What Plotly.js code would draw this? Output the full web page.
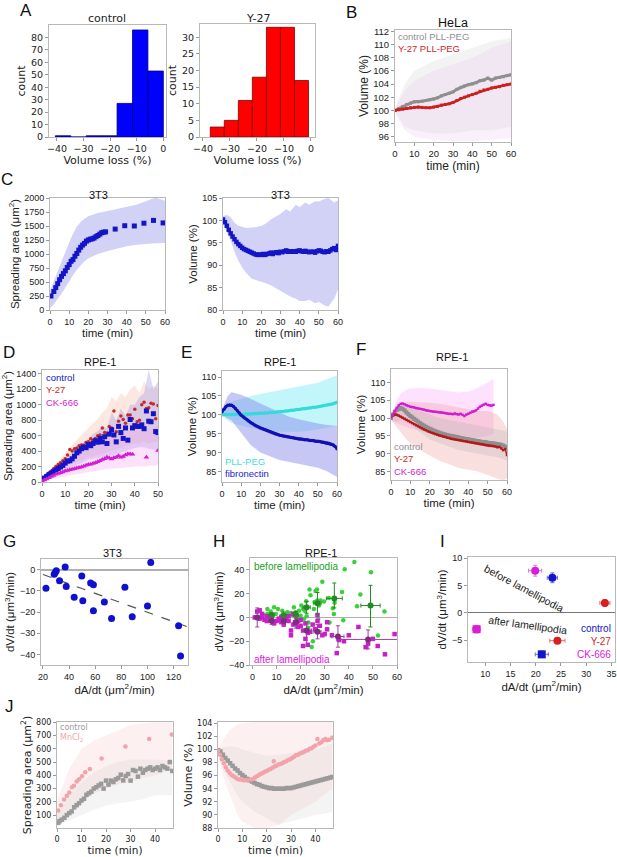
<!DOCTYPE html>
<html>
<head>
<meta charset="utf-8">
<script src="https://cdn.plot.ly/plotly-3.0.1.min.js"></script>
<style>
	body{margin:0;background:#fff;}
	#fig{width:617px;height:857px;}
</style>
</head>
<body>
<div id="fig"></div>
<script>
// ---- A: volume loss histograms ----
var lossCtrlX = [-37.7,-31.9,-26.1,-20.3,-14.5,-8.7,-2.9];
var lossCtrlN = [1,0,1,1,27,86,53];
var lossY27X = [-34.7,-29.5,-24.3,-19.1,-13.9,-8.7,-3.5];
var lossY27N = [3,5,11,18,33,33,17];

// ---- B: HeLa volume ----
var tHela = [0,2,4,6,8,10,12,14,16,18,20,22,24,26,28,30,32,34,36,38,40,42,44,46,48,50,52,54,56,58,60];
var helaCtrl = [100,100.3,100.6,100.9,101.1,101.3,101.3,101.4,101.5,101.6,101.7,101.9,102.2,102.4,102.6,102.8,103.2,103.5,103.7,103.9,104.0,104.2,104.5,104.6,104.9,104.6,104.9,105.0,105.1,105.3,105.4];
var helaY27 = [100,100.1,100.2,100.3,100.4,100.45,100.5,100.45,100.4,100.4,100.5,100.6,100.8,100.9,101.0,101.2,101.5,101.8,102.0,102.2,102.4,102.6,102.9,103.1,103.2,103.4,103.5,103.6,103.8,103.9,104.0];
var tHelaBand = [0,5,10,20,30,40,50,60];
var helaCtrlHi = [100.3,104,106,107.5,108.5,109.5,110.5,111];
var helaCtrlLo = [99.8,97.5,97,96.5,96.5,97,97,97.5];
var helaY27Hi = [100.3,103,104.5,106,107,108,109.5,110.5];
var helaY27Lo = [99.7,97,96,95.5,95.3,95.3,95.5,95.8];

// ---- C: 3T3 spreading area and volume ----
var t3t3Area = [0.5,2,3,4,5,6,7,8,9,10,11,12,13,14,15,16,17,18,19,20,21,22,23,24,25,26,27,28,29,34,39,44,49,54,59];
var area3t3 = [250,330,400,470,540,600,650,700,760,810,870,900,960,1010,1070,1120,1160,1190,1230,1250,1265,1270,1285,1310,1330,1355,1380,1390,1395,1445,1505,1500,1550,1600,1555];
var t3t3AreaBand = [0,2,4,6,8,10,12,14,16,18,20,25,30,35,40,45,50,55,60];
var area3t3Hi = [350,520,720,895,1060,1206,1360,1490,1570,1630,1672,1730,1770,1810,1850,1880,1940,2010,1950];
var area3t3Lo = [30,100,200,290,400,506,620,720,800,870,925,1000,1055,1100,1140,1165,1180,1190,1195];

var t3t3Vol = [0,1,2,3,4,5,6,7,8,9,10,11,12,13,14,15,16,17,18,19,20,21,22,23,24,25,26,27,28,29,30,31,32,33,34,35,36,37,38,39,40,41,42,43,44,45,46,47,48,49,50,51,52,53,54,55,56,57,58,59,60];
var vol3t3 = [100.2,99.6,98.8,97.9,97.1,96.4,95.8,95.2,94.7,94.3,93.9,93.6,93.4,93.2,93.0,92.8,92.6,92.4,92.3,92.4,92.3,92.5,92.3,92.5,92.6,92.8,92.5,92.8,92.9,92.7,93.0,92.9,93.1,93.3,93.0,93.1,93.0,93.1,93.0,93.2,93.3,93.1,93.0,93.2,93.0,92.9,93.0,93.0,92.8,93.1,93.3,93.2,93.0,92.9,93.1,93.0,93.3,93.6,93.8,93.4,94.3];
var t3t3VolBand = [0,2,4,6,8,10,12,15,18,20,22,25,28,30,33,35,38,40,43,45,48,50,53,55,58,60];
var vol3t3Hi = [101,101.2,100.7,99.5,98.8,98.5,98.3,98.4,98.5,98.8,99.2,100.2,101,101.5,102.5,102,103.5,103,104,103.5,104.3,104.2,104.8,105,104,104.5];
var vol3t3Lo = [99.3,97.5,95.5,93,91,89.5,88.3,87,86.5,86.3,86,85.5,84.8,84.2,83.5,83,82.5,82,82,82.3,81.5,81.8,81,80.8,82.5,84.5];

// ---- D: RPE-1 spreading area ----
var tRpeArea = [0,1,2,3,4,5,6,7,8,9,10,11,12,13,14,15,16,17,18,19,20,21,22,23,24,25,26,27,28,29,30,31,32,33,34,35,36,37,38,39,40,41,42,43,44,45,46,47,48,49,50];
var areaCtrl = [25,50,72,95,115,135,155,175,195,215,245,270,275,300,333,378,400,431,453,444,484,470,498,533,515,564,520,587,498,620,676,609,520,720,640,564,700,542,809,700,730,720,720,740,690,920,787,780,884,653,640];
var areaY27 = [30,60,90,115,140,170,200,225,250,275,300,350,422,400,431,440,470,480,476,510,520,560,542,564,600,609,698,640,631,720,698,920,650,787,853,809,760,867,867,820,942,780,800,1000,1031,950,960,1020,1009,820,990];
var tRpeAreaCk = [0,1,2,3,4,5,6,7,8,9,10,11,12,13,14,15,16,17,18,19,20,21,22,23,24,25,26,27,28,29,30,31,32,33,34,35,36,37,38,39,45,50];
var areaCk = [10,25,40,55,70,84,100,110,120,130,142,150,158,164,170,180,187,195,205,218,225,231,240,250,262,275,290,300,320,310,298,315,320,340,320,330,350,364,364,360,320,409];
var tRpeAreaBand = [0,2,4,6,8,10,12,14,16,18,20,22,24,26,28,30,32,34,36,38,40,42,44,46,48,50];
var areaCtrlHi = [40,90,140,190,240,300,360,420,470,520,560,620,660,720,700,900,800,950,850,1000,1000,1100,1150,1450,1200,1300];
var areaCtrlLo = [15,30,50,80,110,150,180,210,240,260,290,300,310,320,330,340,360,380,400,420,440,450,450,430,420,400];
var areaY27Hi = [50,110,170,240,300,380,450,520,580,640,700,760,820,900,950,1100,1050,1150,1100,1200,1250,1150,1300,1200,1250,1200];
var areaY27Lo = [20,50,90,130,170,200,230,260,280,300,320,330,340,360,380,400,420,440,460,480,500,500,520,500,510,520];
var areaCkHi = [20,60,100,150,200,250,300,340,380,420,450,480,520,560,600,640,600,620,640,650,680,660,700,680,700,720];
var areaCkLo = [5,15,30,45,60,75,90,100,110,120,130,140,150,160,170,170,180,180,190,190,200,200,200,210,210,220];

// ---- E: RPE-1 volume, substrate ----
var tRpeVol = [0,1,2,3,4,5,6,7,8,9,10,11,12,13,14,15,16,17,18,19,20,21,22,23,24,25,26,27,28,29,30,31,32,33,34,35,36,37,38,39,40,41,42,43,44,45,46,47,48,49,50,51,52,53,54,55,56,57,58,59,60];
var volFn = [100.8,101.5,102.1,102.5,102.6,102.5,102.2,101.7,101.1,100.5,99.9,99.5,99.1,98.7,98.3,97.9,97.6,97.3,97.0,96.8,96.5,96.3,96.1,95.9,95.7,95.5,95.3,95.1,94.9,94.8,94.6,94.5,94.4,94.3,94.2,94.1,94.0,93.9,93.8,93.7,93.6,93.6,93.5,93.4,93.4,93.3,93.2,93.2,93.1,93.0,93.0,92.9,92.8,92.7,92.6,92.5,92.4,92.2,92.0,91.6,91.0];
var volPll = [100.0,100.1,100.1,100.1,100.1,100.1,100.1,100.1,100.1,100.1,100.1,100.1,100.2,100.2,100.2,100.2,100.3,100.3,100.3,100.4,100.4,100.4,100.5,100.5,100.5,100.6,100.6,100.7,100.7,100.8,100.8,100.9,100.9,101.0,101.0,101.1,101.2,101.2,101.3,101.4,101.4,101.5,101.6,101.6,101.7,101.8,101.8,101.9,102.0,102.0,102.1,102.2,102.3,102.4,102.5,102.6,102.7,102.8,102.9,103.1,103.3];
var tRpeVolBand = [0,3,5,8,10,15,20,25,30,35,40,45,50,55,60];
var volPllHi = [100.3,102.5,103.5,104,104.3,105,105.5,106,106.5,107,107.3,107.8,108.5,109.5,110.5];
var volPllLo = [99.7,98.5,97.8,97.5,97.2,96.5,96,95.7,95.5,95.5,95.5,95.7,96,96.5,97];
var volFnHi = [101.5,105,106,105.7,105.3,104.2,103,101.8,100.5,99.5,98.8,98.2,97.7,97.3,97];
var volFnLo = [100,99,98.5,96.5,95,92,90,89,88,87.5,87,86.5,86,85,83.5];

// ---- F: RPE-1 volume, drugs ----
var volCtrlF = [100,101,101.8,102.3,102.6,102.8,102.6,102.2,101.6,101.1,100.6,100.2,99.8,99.4,99.0,98.6,98.2,97.9,97.6,97.3,97.0,96.8,96.5,96.3,96.1,95.9,95.7,95.5,95.4,95.2,95.1,95.0,94.9,94.8,94.7,94.6,94.4,94.3,94.2,94.1,94.0,93.9,93.8,93.7,93.6,93.5,93.4,93.3,93.3,93.2,93.1,93.0,93.0,92.9,92.8,92.7,92.6,92.5,92.3,92.0,91.6];
var volY27F = [100.4,100.8,101.0,100.9,100.7,100.4,100.1,99.8,99.5,99.2,98.9,98.6,98.3,98.0,97.7,97.4,97.1,96.8,96.6,96.3,96.1,95.9,95.7,95.5,95.3,95.1,95.0,94.8,94.7,94.5,94.4,94.2,94.1,94.0,93.9,93.8,93.7,93.6,93.5,93.4,93.3,93.2,93.1,93.0,92.9,92.8,92.7,92.6,92.5,92.4,92.3,92.2,92.2,92.1,92.0,91.8,91.9,91.5,91.0,91.3,89.6];
var tCkF = [0,1,2,3,4,5,6,7,8,9,10,11,12,13,14,15,16,17,18,19,20,21,22,23,24,25,26,27,28,29,30,31,32,33,34,35,36,37,38,39,40,41,42,43,44,45,46,47,48,49,50,51,52,53];
var volCkF = [100.2,101.0,102.0,102.9,103.6,104.0,104.1,103.9,103.6,103.4,103.2,103.1,103.0,102.8,102.7,102.6,102.5,102.4,102.2,102.1,102.0,101.9,101.8,101.8,101.7,101.6,101.6,101.5,101.4,101.3,101.2,101.2,101.1,101.3,101.1,101.0,101.2,100.9,100.6,101.0,101.2,101.5,101.8,101.9,102.2,102.7,103.2,103.5,103.8,104.0,103.7,103.6,103.5,103.7];
var tBandF = [0,3,5,8,10,15,20,25,30,35,40,45,50,55,58,60];
var volCtrlFHi = [100.5,103,104,103.5,103,102,101,100,99.5,99,98.5,98,97.5,97,96.5,96];
var volCtrlFLo = [99.5,99,99.5,99,98,96,94,93,92,91,90.5,90,89.5,89,88.5,88];
var volY27FHi = [101,103,104,104.5,104.5,104.5,104.3,104,103.5,103,102.5,102,102,101,99,97];
var volY27FLo = [99.5,97.5,96,94,93,91,89.5,88,87,86,85.5,85,84,83,82.5,83];
var tBandCkF = [0,3,5,8,10,15,20,25,30,35,40,45,50,53];
var volCkFHi = [101,105,107,108,108.3,108.5,108.3,108,107.5,107.2,107.5,108.5,110,111];
var volCkFLo = [99.5,98.5,98,97.5,97,96.5,96,95.5,95,94.5,94.5,94.5,95,95.5];

// ---- G: 3T3 rates ----
var dA3t3 = [22.3,28.6,29.4,30.2,32.7,37,37.8,43.9,49.7,50.5,56.5,58.6,58.6,67,72.5,82.7,88.3,100,102.5,123.8,125.3];
var dV3t3 = [-8.7,-2.1,-1.3,-0.5,-5.2,1.3,-7.9,-13,-2.9,-14.6,-6.3,-7.1,-19.4,-15.2,-23,-8.3,-22.2,-17.1,3.5,-26.5,-40.8];
var fitX = [20,130];
var fitY = [-2.2,-26.8];

// ---- H: RPE-1 rates before / after lamellipodia ----
var dABefore = [42.3,38.3,49.2,29,23.7,26.2,26.8,24.1,31.7,37.2,44.8,43.4,54.8,52.1,37.7,33.4,33.8,28.3,29.7,22.3,20.3,19.3,17.2,17.9,15.9,14.5,12.4,10.6,9,7.6,6.2,4.8,9.7,12,16.6,20,21.1,22.5,23.2,25.8,26.9,27.6,25.5,25.1,24.6,23.2,27.3,32,21.7,18.9,13.8,6.2,21.4,34.1];
var dVBefore = [46.6,40.6,38,30,23.4,22.3,23.4,18.6,16.3,21.4,19.4,9.4,4.9,-15.1,-2.3,7.7,2.9,14.3,13.4,13.7,10,5.7,8.6,4.3,3.7,4.3,5.7,7.1,8.6,4.9,2.9,2,2.9,1.4,2,1.4,7.1,0.9,-4.3,12.9,14.3,10,7.1,-20,-24.9,-8.6,-1.4,-4.3,5.7,0,0.9,7.1,-1.4,12.3];
var dAAfter = [1,2,3,4,4,5,6,7,8,9,10,11,12,13,14,15,16,17,18,19,20,21,22,23,24,25,26,27,28,29,30,31,33,35,36,38,40,44,47,48,50,52,55,59,3,6,11,15,19,23,27,31,20,17,12,16,21,22];
var dVAfter = [0,5,6,3,0,-2,-3,0,-2,-5,-3,-1,-4,-6,-2,-3,-15,-6,-4,-8,-2,-11,-5,-23,-12,-6,-10,-3,-7,-15,-14,-10,-15,-30,-19,-20,-15,-8,-25,-22,-18,-24,-31,-14,-1,1,-2,1,-3,-13,2,-4,-7,3,0,-11,-24,-18];
var dABeforeMean = [8,13,18,22.5,27,34,49];
var dVBeforeMean = [2,1.5,2,8.5,12,16,10];
var dABeforeErr = [1,1,1,1.5,1.5,3.3,4];
var dVBeforeErrUp = [2,3,3,5,9,13,17];
var dVBeforeErrDn = [2,3,3,5,9,8,18];
var dAAfterMean = [2,8,13,18,22.5,27,35.5,48];
var dVAfterMean = [0,-3,-3,-4,-11,-12,-16,-18.5];
var dAAfterErr = [1,1,1,1,2,1.5,2.5,13];
var dVAfterErrUp = [8,3,4,5,7,6,9,8];
var dVAfterErrDn = [8,3,4,5,13,6,9,8];

// ---- I: mean rates per condition ----
var condNames = ['control','Y-27','CK-666'];
var dAMeanBefore = [23.3,33.7,19.9];
var dVMeanBefore = [6.4,1.8,7.7];
var dAErrBefore = [1.0,1.0,1.3];
var dVErrBefore = [0.9,0.6,1.0];
var dAMeanAfter = [21.2,24.3,8.3];
var dVMeanAfter = [-7.6,-5.1,-3.0];
var dAErrAfter = [1.3,1.5,0.8];
var dVErrAfter = [0.6,0.4,0.7];

// ---- J: MnCl2 ----
var tMnCtrl = [0.5,1,2,3,4,5,6,7,8,9,10,11,12,13,14,15,16,17,18,19,20,21,22,23,24,25,26,27,28,29,30,31,32,33,34,35,36,37,38,39,40,41,42,43,44,45,46,47];
var areaMnCtrl = [42,55,66,80,100,115,128,159,175,190,210,223,253,265,277,300,310,324,336,300,360,330,360,350,370,380,405,362,395,410,360,440,433,390,450,420,440,450,460,440,450,460,440,470,460,450,500,433];
var tMn = [0.5,1.6,2.9,4,5,6.1,6.9,8,9,10.2,11.5,13.4,18.2,27.9,37.6,46.8];
var areaMn = [135,175,218,247,270,310,322,353,370,393,424,448,526,618,673,707];
var tMnBand = [0,5,10,15,20,25,30,35,40,45,47];
var areaMnCtrlHi = [100,250,350,420,470,500,520,520,520,510,500];
var areaMnCtrlLo = [20,60,100,140,170,190,200,220,250,250,250];
var areaMnHi = [200,450,600,660,700,740,780,790,800,800,800];
var areaMnLo = [50,130,200,260,300,330,350,380,400,430,450];
var tVolMnCtrl = [0,1,2,3,4,5,6,7,8,9,10,11,12,13,14,15,16,17,18,19,20,21,22,23,24,25,26,27,28,29,30,31,32,33,34,35,36,37,38,39,40,41,42,43,44,45,46,47];
var volMnCtrl = [99.9,99.7,99.2,98.7,98.3,97.9,97.5,97.1,96.8,96.4,96.1,95.8,95.5,95.3,95.1,94.9,94.7,94.6,94.4,94.3,94.2,94.1,94.1,94.0,94.0,94.0,94.0,94.0,94.1,94.1,94.1,94.2,94.3,94.4,94.5,94.6,94.7,94.8,94.9,95.0,95.1,95.2,95.3,95.4,95.5,95.6,95.7,95.8];
var tVolMn = [0,0.8,1.6,2.4,3.2,4,4.8,5.6,6.4,7.2,8,8.8,9.6,10.4,11.2,12,13.6,14.4,15.2,16,16.8,17.6,18.4,19.2,20,20.8,21.6,22.4,22.9,23.2,24,24.8,25.6,26.4,27.2,28,28.8,29.6,30.4,31.2,32,32.8,33.6,34.4,35.2,36,36.8,37.6,38.4,39.2,40,40.8,41.6,42.4,43.2,44,44.8,45.6,46.9];
var volMn = [99.8,99.2,98.5,97.9,97.3,96.8,96.4,96.1,95.9,95.7,95.5,95.4,95.4,95.3,95.3,95.3,95.4,95.5,95.7,95.9,96.1,96.3,96.4,96.6,96.7,96.9,97.0,97.2,98.2,97.4,97.5,97.7,97.8,97.9,98.1,98.2,98.4,98.5,98.7,98.9,99.1,99.2,99.4,99.5,99.6,99.8,99.9,100.1,100.2,100.4,100.6,101.6,100.9,101.1,101.4,101.6,101.4,101.5,101.8];
var tVolMnBand = [0,2,5,8,10,15,20,25,30,35,40,45,47];
var volMnCtrlHi = [100,100.3,100.5,100.3,100,99.5,99,99.2,99.5,99.8,100,100.6,101];
var volMnCtrlLo = [99.5,97,95,93,92,90.5,89.5,88.5,89,89.5,90,90.3,90.5];
var volMnHi = [100,101.5,103,103.8,104,104.2,104.2,104.2,104.2,104.2,104.2,104.2,104.2];
var volMnLo = [99.5,96,93,90,89,88,88,88.5,90,91,92,93.5,94];

// ---------------------------------------------------------------
var W = 617, H = 857;
var ARIAL = 'Liberation Sans, Arial, sans-serif';
var DEJA = 'DejaVu Sans, sans-serif';
var BLUE = '#1414c8', RED = '#cc1f1f', MAG = '#d41cd4', GREY = '#8f8f8f';

function px(x){ return x/W; }
function py(y){ return 1-y/H; }

var layout = {
	width: W, height: H,
	margin: {l:0, r:0, t:0, b:0},
	paper_bgcolor: '#fff', plot_bgcolor: '#fff',
	showlegend: false,
	annotations: [],
	font: {family: ARIAL, color: '#222'}
};
var data = [];

function ids(n){ return n==1 ? ['x','y','xaxis','yaxis'] : ['x'+n,'y'+n,'xaxis'+n,'yaxis'+n]; }

// n: subplot number, box: [left,right,top,bottom] in px
function panel(n, box, xr, yr, xo, yo, fnt, tsz){
	var id = ids(n);
	var base = function(){
		return {showline:true, mirror:true, linecolor:'#b8b8b8', linewidth:1,
			ticks:'outside', ticklen:3, tickcolor:'#999', showgrid:false, zeroline:false,
			tickfont:{family:fnt, size:tsz, color:'#222'}, fixedrange:true};
	};
	var xa = base(), ya = base();
	xa.domain = [px(box[0]), px(box[1])];
	ya.domain = [py(box[3]), py(box[2])];
	xa.anchor = id[1]; ya.anchor = id[0];
	xa.range = xr; ya.range = yr;
	for(var k in xo) xa[k] = xo[k];
	for(var k in yo) ya[k] = yo[k];
	layout[id[2]] = xa;
	layout[id[3]] = ya;
}

function ttl(text, fnt, size, standoff){
	return {text:text, font:{family:fnt, size:size, color:'#222'}, standoff:standoff};
}

function note(x, y, text, opts){
	var a = {xref:'paper', yref:'paper', x:px(x), y:py(y), text:text, showarrow:false,
		xanchor:'center', yanchor:'middle', font:{family:ARIAL, size:11, color:'#222'}};
	for(var k in opts) a[k] = opts[k];
	layout.annotations.push(a);
}

// stacked coloured legend lines as one text block
function legendText(x, yTop, names, cols, fnt, size, align){
	var lines = names.map(function(s, i){ return '<span style="color:'+cols[i]+'">'+s+'</span>'; });
	note(x, yTop, lines.join('<br>'), {xanchor:align||'left', yanchor:'top', align:align||'left',
		borderpad:0, font:{family:fnt, size:size, color:'#222'}});
}

function band(n, t, lo, hi, color){
	var id = ids(n);
	data.push({x:t.concat(t.slice().reverse()), y:hi.concat(lo.slice().reverse()),
		xaxis:id[0], yaxis:id[1], type:'scatter', mode:'lines', fill:'toself',
		fillcolor:color, line:{width:0}, hoverinfo:'skip'});
}

function series(n, t, v, color, symbol, size, lineW){
	var id = ids(n);
	data.push({x:t, y:v, xaxis:id[0], yaxis:id[1], type:'scatter',
		mode: lineW ? 'lines+markers' : 'markers',
		line:{color:color, width:lineW||0},
		marker:{color:color, symbol:symbol, size:size}});
}

// ---- A ----
panel(1, [49,166,25,137], [-43,1], [0,90],
	{tickvals:[-40,-30,-20,-10,0], title:ttl('Volume loss (%)', DEJA, 11, 2)},
	{tickvals:[0,10,20,30,40,50,60,70,80], title:ttl('count', DEJA, 11, 3)}, DEJA, 9.5);
panel(2, [200,315,24,137], [-41.1,1.5], [0,34],
	{tickvals:[-40,-30,-20,-10,0], title:ttl('Volume loss (%)', DEJA, 11, 2)},
	{tickvals:[0,5,10,15,20,25,30], title:ttl('count', DEJA, 11, 3)}, DEJA, 9.5);
data.push({type:'bar', x:lossCtrlX, y:lossCtrlN, width:5.8, xaxis:'x', yaxis:'y',
	marker:{color:'#0000ff', line:{color:'#000080', width:0.8}}});
data.push({type:'bar', x:lossY27X, y:lossY27N, width:5.2, xaxis:'x2', yaxis:'y2',
	marker:{color:'#ff0000', line:{color:'#800000', width:0.8}}});
note(26, 10, 'A', {font:{family:ARIAL, size:17, color:'#111'}});
note(107, 18, 'control', {font:{family:DEJA, size:11, color:'#222'}});
note(258, 18, 'Y-27', {font:{family:DEJA, size:11, color:'#222'}});

// ---- B ----
panel(3, [395,511,30,142], [0,60], [95.2,112.2],
	{dtick:10, title:ttl('time (min)', ARIAL, 12, 2)},
	{tickvals:[96,98,100,102,104,106,108,110,112], title:ttl('Volume (%)', ARIAL, 12, 2)}, ARIAL, 9.5);
band(3, tHelaBand, helaCtrlLo, helaCtrlHi, 'rgba(200,200,200,0.22)');
band(3, tHelaBand, helaY27Lo, helaY27Hi, 'rgba(235,200,240,0.28)');
series(3, tHela, helaCtrl, GREY, 'square', 3, 3);
series(3, tHela, helaY27, RED, 'square', 3, 2.5);
note(351, 13, 'B', {font:{family:ARIAL, size:17, color:'#111'}});
note(453, 23, 'HeLa', {font:{family:ARIAL, size:12.5, color:'#111'}});
legendText(397, 30, ['control PLL-PEG','Y-27 PLL-PEG'], [GREY, RED], ARIAL, 9.5);

// ---- C ----
panel(4, [50,165,198,310], [0,60], [0,2000],
	{dtick:10, title:ttl('time (min)', ARIAL, 11.5, 2)},
	{dtick:250, title:ttl('Spreading area (\u03bcm<sup>2</sup>)', ARIAL, 11.5, 2)}, ARIAL, 9);
band(4, t3t3AreaBand, area3t3Lo, area3t3Hi, 'rgba(165,165,240,0.5)');
series(4, t3t3Area, area3t3, BLUE, 'square', 5, 0);
panel(5, [223,338,198,310], [0,60], [80,105],
	{dtick:10, title:ttl('time (min)', ARIAL, 11.5, 2)},
	{dtick:5, title:ttl('Volume (%)', ARIAL, 11.5, 2)}, ARIAL, 9);
band(5, t3t3VolBand, vol3t3Lo, vol3t3Hi, 'rgba(165,165,240,0.5)');
series(5, t3t3Vol, vol3t3, BLUE, 'square', 4.5, 0);
note(7, 180, 'C', {font:{family:ARIAL, size:17, color:'#111'}});
note(98, 195, '3T3', {font:{family:ARIAL, size:11, color:'#111'}});
note(280, 195, '3T3', {font:{family:ARIAL, size:11, color:'#111'}});

// ---- D ----
panel(6, [42,158,370,482], [0,50], [0,1450],
	{dtick:10, title:ttl('time (min)', ARIAL, 11.5, 2)},
	{dtick:200, title:ttl('Spreading area (\u03bcm<sup>2</sup>)', ARIAL, 11.5, 2)}, ARIAL, 9);
band(6, tRpeAreaBand, areaY27Lo, areaY27Hi, 'rgba(250,190,170,0.35)');
band(6, tRpeAreaBand, areaCtrlLo, areaCtrlHi, 'rgba(150,150,235,0.35)');
band(6, tRpeAreaBand, areaCkLo, areaCkHi, 'rgba(245,170,240,0.35)');
series(6, tRpeArea, areaY27, '#c42a2a', 'circle', 3.5, 0);
series(6, tRpeArea, areaCtrl, BLUE, 'square', 5, 0);
series(6, tRpeAreaCk, areaCk, MAG, 'triangle-up', 5, 0);
note(9, 352, 'D', {font:{family:ARIAL, size:17, color:'#111'}});
note(100, 362, 'RPE-1', {font:{family:ARIAL, size:11, color:'#111'}});
legendText(45, 371, condNames, [BLUE, RED, MAG], ARIAL, 9.5);

// ---- E ----
panel(7, [222,337,371,482], [0,60], [82.2,111.6],
	{dtick:10, title:ttl('time (min)', ARIAL, 11.5, 2)},
	{dtick:5, title:ttl('Volume (%)', ARIAL, 11.5, 2)}, ARIAL, 9);
band(7, tRpeVolBand, volPllLo, volPllHi, 'rgba(120,235,245,0.45)');
band(7, tRpeVolBand, volFnLo, volFnHi, 'rgba(130,130,235,0.45)');
series(7, tRpeVol, volPll, '#35dada', 'circle', 3.5, 2);
series(7, tRpeVol, volFn, '#1010b4', 'circle', 3.5, 2.5);
note(186, 352, 'E', {font:{family:ARIAL, size:17, color:'#111'}});
note(280, 362, 'RPE-1', {font:{family:ARIAL, size:11, color:'#111'}});
legendText(224, 455, ['PLL-PEG','fibronectin'], ['#40e0e0','#1a1ad0'], ARIAL, 9.5);

// ---- F ----
panel(8, [391,507,369,480], [0,60], [82.6,113.8],
	{dtick:10, title:ttl('time (min)', ARIAL, 11.5, 2)},
	{dtick:5, title:ttl('Volume (%)', ARIAL, 11.5, 2)}, ARIAL, 9);
band(8, tBandCkF, volCkFLo, volCkFHi, 'rgba(250,170,250,0.35)');
band(8, tBandF, volY27FLo, volY27FHi, 'rgba(240,150,150,0.3)');
band(8, tBandF, volCtrlFLo, volCtrlFHi, 'rgba(170,170,170,0.25)');
series(8, tRpeVol, volCtrlF, GREY, 'square', 4, 3);
series(8, tRpeVol, volY27F, '#b51818', 'square', 2.5, 1.5);
series(8, tCkF, volCkF, MAG, 'square', 2.5, 1.5);
note(361, 349, 'F', {font:{family:ARIAL, size:17, color:'#111'}});
note(452, 357, 'RPE-1', {font:{family:ARIAL, size:11, color:'#111'}});
legendText(393, 440, condNames, [GREY, RED, MAG], ARIAL, 9.5);

// ---- G ----
panel(9, [41,188,559,665], [18.5,131], [-45,5.1],
	{tickvals:[20,40,60,80,100,120], title:ttl('dA/dt (\u03bcm<sup>2</sup>/min)', ARIAL, 11.5, 2)},
	{tickvals:[-40,-30,-20,-10,0], zeroline:true, zerolinecolor:'#b0b0b0', zerolinewidth:1.5,
	 title:ttl('dV/dt (\u03bcm<sup>3</sup>/min)', ARIAL, 11.5, 2)}, ARIAL, 9);
data.push({x:fitX, y:fitY, xaxis:'x9', yaxis:'y9', type:'scatter', mode:'lines',
	line:{color:'#555', width:1.2, dash:'dash'}});
series(9, dA3t3, dV3t3, '#1010d0', 'circle', 7, 0);
note(9, 541, 'G', {font:{family:ARIAL, size:17, color:'#111'}});
note(112, 553, '3T3', {font:{family:ARIAL, size:11, color:'#111'}});

// ---- H ----
panel(10, [250,397,558,665], [-1,60], [-40,50],
	{dtick:10, title:ttl('dA/dt (\u03bcm<sup>2</sup>/min)', ARIAL, 11.5, 2)},
	{tickvals:[-40,-20,0,20,40], zeroline:true, zerolinecolor:'#b0b0b0', zerolinewidth:1.5,
	 title:ttl('dV/dt (\u03bcm<sup>3</sup>/min)', ARIAL, 11.5, 2)}, ARIAL, 9);
series(10, dABefore, dVBefore, '#3ccf3c', 'circle', 4.5, 0);
series(10, dAAfter, dVAfter, '#c81ec8', 'square', 4.5, 0);
data.push({x:dABeforeMean, y:dVBeforeMean, xaxis:'x10', yaxis:'y10', type:'scatter', mode:'markers',
	marker:{color:'#1f8c1f', size:6},
	error_x:{type:'data', array:dABeforeErr, color:'#1f8c1f', thickness:1, width:2},
	error_y:{type:'data', array:dVBeforeErrUp, arrayminus:dVBeforeErrDn, color:'#1f8c1f', thickness:1, width:2}});
data.push({x:dAAfterMean, y:dVAfterMean, xaxis:'x10', yaxis:'y10', type:'scatter', mode:'markers',
	marker:{color:'#7d2d7d', size:6},
	error_x:{type:'data', array:dAAfterErr, color:'#a63ca6', thickness:1, width:2},
	error_y:{type:'data', array:dVAfterErrUp, arrayminus:dVAfterErrDn, color:'#a63ca6', thickness:1, width:2}});
note(219, 541, 'H', {font:{family:ARIAL, size:17, color:'#111'}});
note(321, 553, 'RPE-1', {font:{family:ARIAL, size:11, color:'#111'}});
note(252, 566, 'before lamellipodia', {xanchor:'left', font:{family:ARIAL, size:10, color:'#22a022'}});
note(252, 659, 'after lamellipodia', {xanchor:'left', font:{family:ARIAL, size:10, color:'#e020e0'}});

// ---- I ----
panel(11, [468,615,557,662], [6.6,35.7], [-9,10.2],
	{tickvals:[10,15,20,25,30,35], title:ttl('dA/dt (\u03bcm<sup>2</sup>/min)', ARIAL, 11.5, 2)},
	{tickvals:[-5,0,5,10], zeroline:true, zerolinecolor:'#777', zerolinewidth:1,
	 title:ttl('dV/dt (\u03bcm<sup>3</sup>/min)', ARIAL, 11.5, 2)}, ARIAL, 9);
var condCols = ['#1414c8','#d81e1e','#d81cd8'];
var condErr = ['#6a6ad0','#e07070','#e070e0'];
var afterSym = ['square','circle','square'];
for(var i=0;i<condNames.length;i++){
	data.push({x:[dAMeanBefore[i]], y:[dVMeanBefore[i]], xaxis:'x11', yaxis:'y11', type:'scatter', mode:'markers',
		name:condNames[i], marker:{color:condCols[i], size:8, symbol:'circle'},
		error_x:{type:'data', array:[dAErrBefore[i]], color:condErr[i], thickness:1, width:2},
		error_y:{type:'data', array:[dVErrBefore[i]], color:condErr[i], thickness:1, width:2}});
	data.push({x:[dAMeanAfter[i]], y:[dVMeanAfter[i]], xaxis:'x11', yaxis:'y11', type:'scatter', mode:'markers',
		name:condNames[i], marker:{color:condCols[i], size:8, symbol:afterSym[i]},
		error_x:{type:'data', array:[dAErrAfter[i]], color:condErr[i], thickness:1, width:2},
		error_y:{type:'data', array:[dVErrAfter[i]], color:condErr[i], thickness:1, width:2}});
}
layout.annotations.push({xref:'x11', yref:'y11', x:17.6, y:4.5, text:'before lamellipodia', showarrow:false,
	textangle:28, font:{family:ARIAL, size:10.5, color:'#222'}});
layout.annotations.push({xref:'x11', yref:'y11', x:18.5, y:-2.3, text:'after lamellipodia', showarrow:false,
	textangle:8, font:{family:ARIAL, size:10.5, color:'#222'}});
note(442, 541, 'I', {font:{family:ARIAL, size:17, color:'#111'}});
legendText(612, 622, condNames, condCols, ARIAL, 10, 'right');

// ---- J ----
panel(12, [57,173,722,828], [0,47.3], [3,802],
	{tickvals:[0,10,20,30,40], title:ttl('time (min)', DEJA, 10.5, 1)},
	{tickvals:[100,200,300,400,500,600,700,800], title:ttl('Spreading area (\u03bcm<sup>2</sup>)', DEJA, 11, 2)}, DEJA, 8);
band(12, tMnBand, areaMnLo, areaMnHi, 'rgba(250,205,205,0.3)');
band(12, tMnBand, areaMnCtrlLo, areaMnCtrlHi, 'rgba(200,200,200,0.2)');
series(12, tMnCtrl, areaMnCtrl, '#9a9a9a', 'square', 4.5, 0);
series(12, tMn, areaMn, '#f4a2aa', 'circle', 4.5, 0);
panel(13, [218,333,722,828], [0,47.2], [88,104.2],
	{tickvals:[0,10,20,30,40], title:ttl('time (min)', DEJA, 10.5, 1)},
	{tickvals:[88,90,92,94,96,98,100,102,104], title:ttl('Volume (%)', DEJA, 11, 2)}, DEJA, 8);
band(13, tVolMnBand, volMnLo, volMnHi, 'rgba(250,205,205,0.3)');
band(13, tVolMnBand, volMnCtrlLo, volMnCtrlHi, 'rgba(200,200,200,0.2)');
series(13, tVolMnCtrl, volMnCtrl, '#9a9a9a', 'square', 4.5, 0);
series(13, tVolMn, volMn, '#f4a2aa', 'circle', 4.5, 0);
note(9, 706, 'J', {font:{family:ARIAL, size:17, color:'#111'}});
legendText(59, 722, ['control','MnCl<sub>2</sub>'], ['#9a9a9a','#f4a2aa'], DEJA, 8);

Plotly.newPlot('fig', data, layout, {staticPlot:true, displayModeBar:false});
</script>
</body>
</html>
